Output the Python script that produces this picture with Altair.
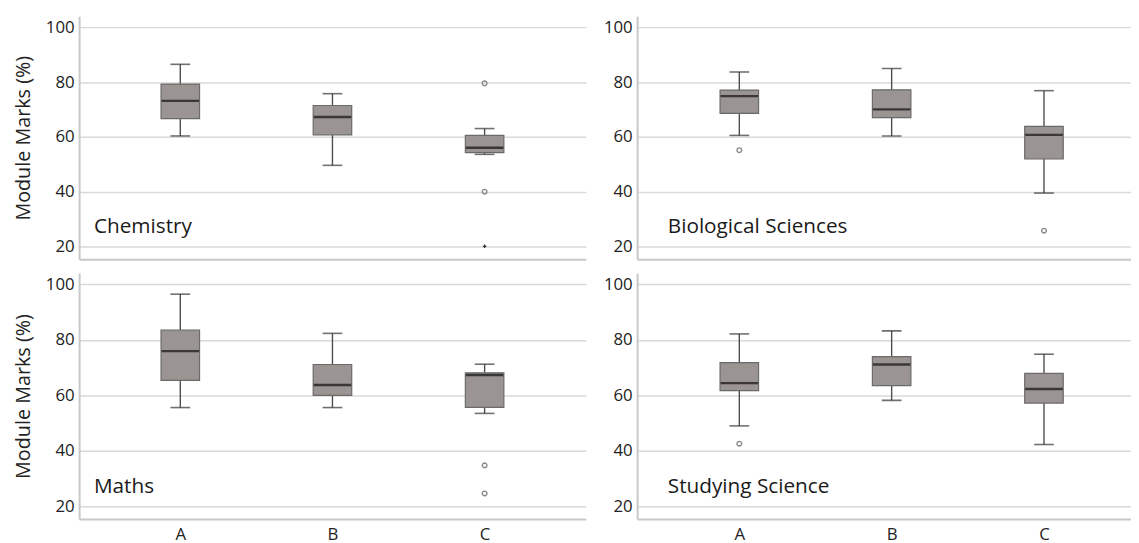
import altair as alt
import pandas as pd

subjects = ["Chemistry", "Biological Sciences", "Maths", "Studying Science"]
groups = ["A", "B", "C"]

# five-number summaries (lower whisker, Q1, median, Q3, upper whisker), per subject, per group A/B/C
whisker_lo = [60.4, 49.7, 53.7,   60.6, 60.4, 39.6,   55.6, 55.6, 53.5,   49.0, 58.2, 42.3]
q1         = [66.7, 60.8, 54.3,   68.6, 67.1, 52.0,   65.4, 60.0, 55.7,   61.7, 63.5, 57.2]
median     = [73.2, 67.3, 56.1,   74.9, 70.1, 60.8,   75.9, 63.7, 67.3,   64.4, 71.1, 62.3]
q3         = [79.3, 71.5, 60.6,   77.1, 77.2, 63.9,   83.5, 71.1, 68.1,   71.8, 73.9, 67.9]
whisker_hi = [86.5, 75.8, 63.1,   83.7, 85.0, 76.9,   96.4, 82.3, 71.2,   82.1, 83.2, 74.8]

# outliers ("o" = circle, "*" = extreme)
out_subject = ["Chemistry", "Chemistry", "Chemistry", "Biological Sciences", "Biological Sciences",
               "Maths", "Maths", "Studying Science"]
out_group = ["C", "C", "C", "A", "C", "C", "C", "A"]
out_value = [79.6, 40.1, 20.2, 55.2, 25.9, 34.8, 24.7, 42.6]
out_kind = ["o", "o", "*", "o", "o", "o", "o", "o"]

label_value = 25

box = pd.DataFrame({
    "subject": [s for s in subjects for _ in groups],
    "group": groups * len(subjects),
    "lo": whisker_lo, "q1": q1, "med": median, "q3": q3, "hi": whisker_hi,
})
outs = pd.DataFrame({"subject": out_subject, "group": out_group, "value": out_value, "kind": out_kind})

FONT = "Open Sans"
YDOM = [15.5, 104]


def panel(subj, left, bottom, width, height, label_dx, pad, align):
    d = box[box.subject == subj]
    o = outs[(outs.subject == subj) & (outs.kind == "o")]
    e = outs[(outs.subject == subj) & (outs.kind == "*")]
    xs = alt.Scale(type="point", domain=groups, padding=pad, align=align)
    ys = alt.Scale(domain=YDOM, nice=False, zero=False)
    if bottom:
        xaxis = alt.Axis(title=None, labelAngle=0, labelPadding=8, domain=True, ticks=False, grid=False)
    else:
        xaxis = alt.Axis(title=None, labels=False, domain=True, ticks=False, grid=False)
    yaxis = alt.Axis(values=[20, 40, 60, 80, 100], grid=True, ticks=False, labelPadding=5,
                     title="Module Marks (%)" if left else None, titlePadding=12)
    X = alt.X("group:N", scale=xs, axis=xaxis)

    def Y(f):
        return alt.Y(f, type="quantitative", scale=ys, axis=yaxis)

    whisk_lo = alt.Chart(d).mark_rule(color="#4d4d4d", strokeWidth=1.4).encode(
        x=X, y=Y("lo"), y2="q1:Q")
    whisk_hi = alt.Chart(d).mark_rule(color="#4d4d4d", strokeWidth=1.4).encode(
        x=X, y=Y("q3"), y2="hi:Q")
    cap_lo = alt.Chart(d).mark_tick(color="#333333", thickness=1.6, size=20).encode(x=X, y=Y("lo"))
    cap_hi = alt.Chart(d).mark_tick(color="#333333", thickness=1.6, size=20).encode(x=X, y=Y("hi"))
    bars = alt.Chart(d).mark_bar(size=39, color="#9a9492", stroke="#6a6a6a", strokeWidth=1.2).encode(
        x=X, y=Y("q1"), y2="q3:Q")
    med = alt.Chart(d).mark_tick(color="#111111", thickness=2.4, size=38).encode(x=X, y=Y("med"))
    layers = [whisk_lo, whisk_hi, cap_lo, cap_hi, bars, med]
    if len(o):
        layers.append(alt.Chart(o).mark_point(shape="circle", size=22, filled=False, color="#8a8a8a",
                                              strokeWidth=1.4, opacity=1).encode(x=X, y=Y("value")))
    if len(e):
        layers.append(alt.Chart(e).mark_point(shape="cross", size=12, filled=True, color="#333333",
                                              opacity=1).encode(x=X, y=Y("value")))
    lab = pd.DataFrame({"label": [subj], "ly": [label_value]})
    layers.append(alt.Chart(lab).mark_text(align="left", baseline="alphabetic", font=FONT, fontSize=21,
                                           color="#1a1a1a").encode(
        x=alt.value(label_dx), y=Y("ly"), text="label:N"))
    return alt.layer(*layers).properties(width=width, height=height)


top = alt.hconcat(
    panel("Chemistry", True, False, 513, 246, 15, 0.665, 0.5),
    panel("Biological Sciences", False, False, 500, 246, 31, 0.621, 0.54),
    spacing=17,
)
bot = alt.hconcat(
    panel("Maths", True, True, 513, 249, 15, 0.665, 0.5),
    panel("Studying Science", False, True, 500, 249, 31, 0.621, 0.54),
    spacing=17,
)
chart = alt.vconcat(top, bot, spacing=14).properties(
    padding={"left": 5, "top": 5, "right": 0, "bottom": 2}
).configure_view(strokeWidth=0).configure_axis(
    labelFont=FONT, labelFontSize=17, labelColor="#222222",
    titleFont=FONT, titleFontSize=20, titleFontWeight="normal", titleColor="#222222",
    gridColor="#d9d9d9", gridWidth=1.5, domainColor="#c8c8c8", domainWidth=2,
)

chart.save("out.html", embed_options={"renderer": "svg", "actions": False})
